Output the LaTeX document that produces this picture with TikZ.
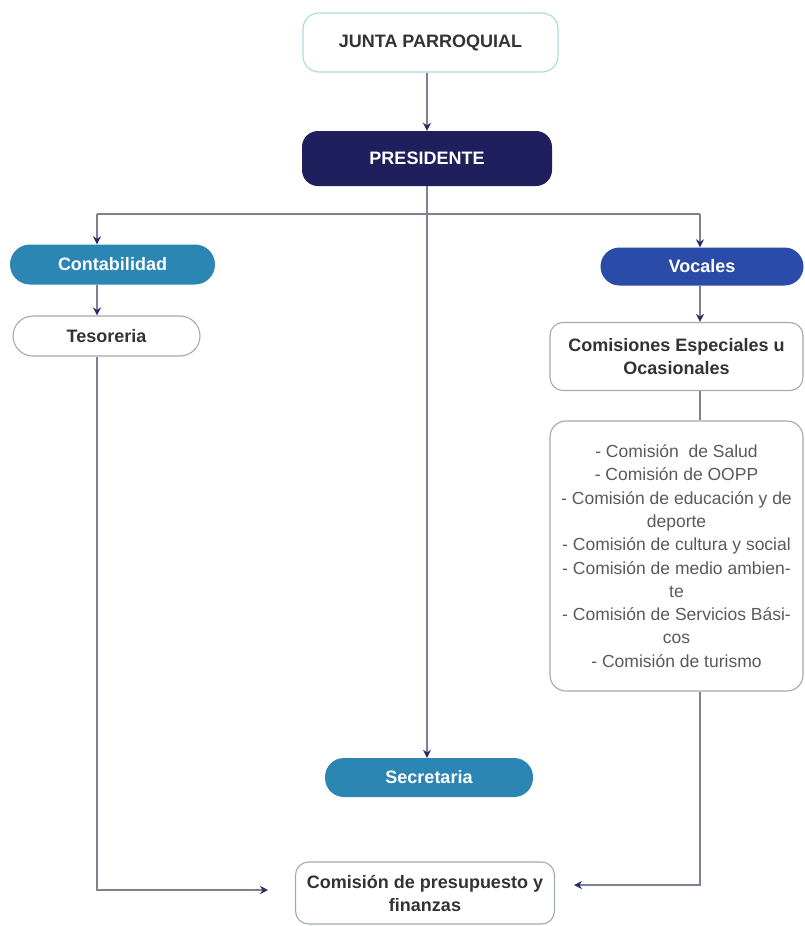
\documentclass[tikz,border=0pt]{standalone}
\usepackage{fontspec}
\setmainfont{Liberation Sans}
\usetikzlibrary{arrows.meta}
\definecolor{navy}{HTML}{1E1F5C}
\definecolor{tealb}{HTML}{2B86B4}
\definecolor{royal}{HTML}{2A4BA8}
\definecolor{linec}{HTML}{7E8192}
\definecolor{tipc}{HTML}{2A2C66}
\definecolor{cyanb}{HTML}{A6DCE0}
\definecolor{greyb}{HTML}{A3AAB0}
\definecolor{txt}{HTML}{333333}
\definecolor{listtxt}{HTML}{5A5A5A}
\begin{document}
\begin{tikzpicture}[x=1pt,y=-1pt,
  box/.style={draw=greyb,line width=1.1pt,fill=white,text=txt,align=center,
    font=\fontsize{18}{23}\selectfont\bfseries,inner sep=0pt},
  pill/.style={draw=none,text=white,align=center,
    font=\fontsize{18}{23}\selectfont\bfseries,inner sep=0pt},
  conn/.style={draw=linec,line width=1.4pt},
  arr/.style={conn,-{Stealth[length=8pt,width=8pt,color=tipc]}}]
\useasboundingbox[fill=white] (0,0) rectangle (804,926);

\node[box,draw=cyanb,rounded corners=16pt,minimum width=255pt,minimum height=59pt] (junta) at (430.5,42.5) {JUNTA PARROQUIAL};
\node[pill,fill=navy,rounded corners=16pt,minimum width=250pt,minimum height=55pt] (pres) at (427,158.5) {PRESIDENTE};
\node[pill,fill=tealb,rounded corners=20pt,minimum width=205pt,minimum height=40pt] (conta) at (112.5,264.5) {Contabilidad};
\node[box,rounded corners=20pt,minimum width=187pt,minimum height=40pt] (teso) at (106.5,336) {Tesoreria};
\node[pill,fill=royal,rounded corners=19pt,minimum width=203pt,minimum height=38pt] (vocal) at (702,266.5) {Vocales};
\node[box,rounded corners=13pt,minimum width=253pt,minimum height=68pt] (comesp) at (676.5,356.5) {Comisiones Especiales u\\Ocasionales};
\node[box,rounded corners=16pt,minimum width=253pt,minimum height=270pt,
  font=\fontsize{17.5}{23.3}\selectfont,text=listtxt] (list) at (676.5,556)
  {- Comisi\'on\ \ de Salud\\- Comisi\'on de OOPP\\- Comisi\'on de educaci\'on y de\\deporte\\- Comisi\'on de cultura y social\\- Comisi\'on de medio ambien-\\te\\- Comisi\'on de Servicios B\'asi-\\cos\\- Comisi\'on de turismo};
\node[pill,fill=tealb,rounded corners=19pt,minimum width=208pt,minimum height=39pt] (secre) at (429,777.5) {Secretaria};
\node[box,rounded corners=13pt,minimum width=259pt,minimum height=62pt] (presu) at (425,893) {Comisi\'on de presupuesto y\\finanzas};

\coordinate (bl) at (97,214);
\coordinate (br) at (700,214);
\coordinate (pl) at (268,890);
\coordinate (pr) at (574,885);

\draw[arr] (junta.south -| pres.north) -- (pres.north);
\draw[arr] (pres.south) -- (pres.south |- secre.north);
\draw[conn] (bl) -- (br);
\draw[arr] (bl) -- (bl |- conta.north);
\draw[arr] (br) -- (br |- vocal.north);
\draw[arr] (bl |- conta.south) -- (bl |- teso.north);
\draw[arr] (bl |- teso.south) |- (pl);
\draw[arr] (br |- vocal.south) -- (br |- comesp.north);
\draw[conn] (br |- comesp.south) -- (br |- list.north);
\draw[arr] (br |- list.south) |- (pr);
\end{tikzpicture}
\end{document}
